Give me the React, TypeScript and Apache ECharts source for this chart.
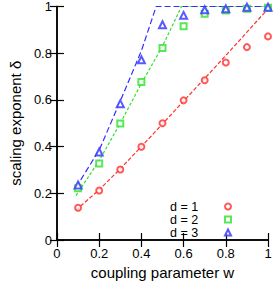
import React, { useEffect, useRef } from "react";
import * as echarts from "echarts";

const wValues = [0.1, 0.2, 0.3, 0.4, 0.5, 0.6, 0.7, 0.8, 0.9, 1.0];
const d1Values = [0.138, 0.212, 0.302, 0.399, 0.5, 0.598, 0.684, 0.76, 0.826, 0.872];
const d2Values = [0.222, 0.328, 0.499, 0.677, 0.822, 0.915, 0.969, 0.983, 0.99, 0.995];
const d3Values = [0.236, 0.377, 0.584, 0.772, 0.922, 0.962, 0.986, 0.99, 0.997, 0.997];

const fit1W = [0.09, 0.2, 0.3, 0.4, 0.5, 0.6, 0.7, 0.8, 0.9, 1.0];
const fit1Y = [0.128, 0.215, 0.305, 0.4, 0.497, 0.595, 0.692, 0.79, 0.89, 0.99];
const fit2W = [0.09, 0.2, 0.3, 0.4, 0.5, 0.59, 1.0];
const fit2Y = [0.19, 0.34, 0.5, 0.67, 0.83, 1.0, 1.0];
const fit3W = [0.09, 0.2, 0.3, 0.4, 0.47, 1.0];
const fit3Y = [0.225, 0.385, 0.595, 0.81, 1.0, 1.0];

const seriesNames = ["d = 1", "d = 2", "d = 3"];
const colors = ["#ff3030", "#30e030", "#3030ff"];

const zip = (xs: number[], ys: number[]) => xs.map((x, i) => [x, ys[i]]);

export default function App() {
  const ref = useRef<HTMLDivElement>(null);
  useEffect(() => {
    if (!ref.current) return;
    const chart = echarts.init(ref.current, null, { renderer: "svg" });
    const font = "Liberation Sans, Arial, sans-serif";
    const axisCommon = {
      type: "value" as const,
      min: 0,
      max: 1,
      interval: 0.2,
      axisLine: { show: true, lineStyle: { color: "#000", width: 1.5 } },
      axisTick: { show: true, inside: true, length: 7, lineStyle: { color: "#000", width: 1.2 } },
      splitLine: { show: false },
    };
    chart.setOption({
      animation: false,
      backgroundColor: "#fff",
      textStyle: { fontFamily: font },
      grid: { left: 49, right: 7, top: 6, bottom: 46 },
      xAxis: [
        {
          ...axisCommon,
          position: "bottom",
          name: "coupling parameter w",
          nameLocation: "middle",
          nameGap: 24,
          nameTextStyle: { fontSize: 15, color: "#000", fontFamily: font },
          axisLabel: { fontSize: 13, color: "#000", margin: 7, fontFamily: font },
        },
        { ...axisCommon, position: "top", axisLabel: { show: false } },
      ],
      yAxis: [
        {
          ...axisCommon,
          position: "left",
          name: "scaling exponent δ",
          nameLocation: "middle",
          nameGap: 30,
          nameTextStyle: { fontSize: 15, color: "#000", fontFamily: font },
          axisLabel: { fontSize: 13, color: "#000", margin: 5, fontFamily: font },
        },
        { ...axisCommon, position: "right", axisLabel: { show: false } },
      ],
      legend: {
        data: seriesNames,
        orient: "vertical",
        align: "right",
        right: 38,
        top: 195,
        itemWidth: 6,
        itemHeight: 6,
        itemGap: 0,
        itemStyle: { borderWidth: 1 },
        formatter: (name: string) => `{t|${name}}`,
        textStyle: {
          fontSize: 12,
          color: "#000",
          fontFamily: font,
          lineHeight: 12.5,
          rich: { t: { width: 50, align: "left", fontSize: 12.5, lineHeight: 12.5, fontFamily: font, color: "#000" } },
        },
      },
      series: [
        {
          type: "line",
          data: zip(fit1W, fit1Y),
          showSymbol: false,
          symbol: "none",
          lineStyle: { color: colors[0], width: 1.2, type: [4, 2] },
          silent: true,
          z: 1,
        },
        {
          type: "line",
          data: zip(fit2W, fit2Y),
          showSymbol: false,
          symbol: "none",
          lineStyle: { color: colors[1], width: 1.2, type: [3, 2] },
          silent: true,
          z: 1,
        },
        {
          type: "line",
          data: zip(fit3W, fit3Y),
          showSymbol: false,
          symbol: "none",
          lineStyle: { color: colors[2], width: 1.2, type: [6, 3] },
          silent: true,
          z: 1,
        },
        {
          name: seriesNames[0],
          type: "scatter",
          data: zip(wValues, d1Values),
          symbol: "emptyCircle",
          symbolSize: 6,
          itemStyle: { color: colors[0], borderColor: colors[0], borderWidth: 1 },
          z: 3,
        },
        {
          name: seriesNames[1],
          type: "scatter",
          data: zip(wValues, d2Values),
          symbol: "emptyRect",
          symbolSize: 6,
          itemStyle: { color: colors[1], borderColor: colors[1], borderWidth: 1 },
          z: 3,
        },
        {
          name: seriesNames[2],
          type: "scatter",
          data: zip(wValues, d3Values),
          symbol: "emptyTriangle",
          symbolSize: 7,
          itemStyle: { color: colors[2], borderColor: colors[2], borderWidth: 1 },
          z: 3,
        },
      ],
    });
    return () => chart.dispose();
  }, []);
  return <div ref={ref} style={{ width: 275, height: 286, position: "absolute", left: 0, top: 0 }} />;
}
